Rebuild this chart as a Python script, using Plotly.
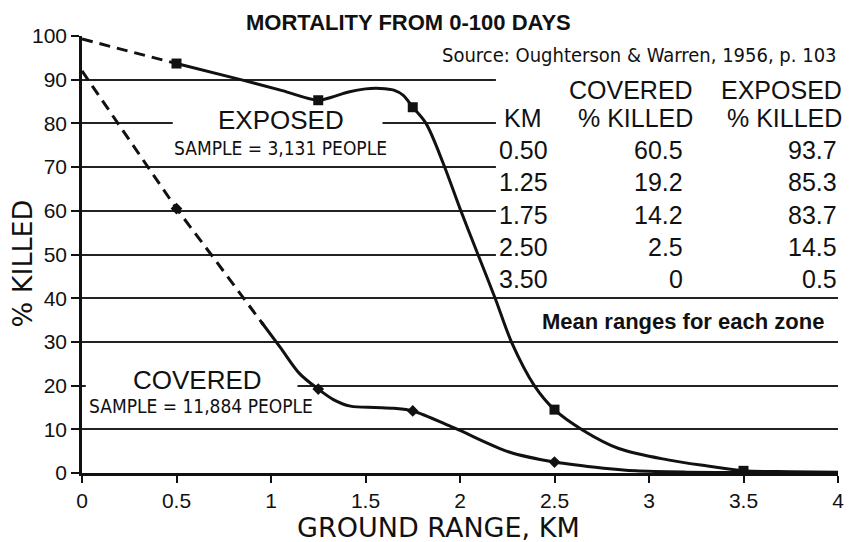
import plotly.graph_objects as go

# Mean ground range of each zone (km) and % killed in 0-100 days
zone_km = [0.50, 1.25, 1.75, 2.50, 3.50]
covered_pct = [60.5, 19.2, 14.2, 2.5, 0]
exposed_pct = [93.7, 85.3, 83.7, 14.5, 0.5]

# Hand-faired curves through the zone values
exposed_fit_x = [0.5, 0.85, 1.06, 1.25, 1.32, 1.41, 1.50, 1.58, 1.65, 1.70, 1.75,
                 1.82, 1.91, 2.0, 2.095, 2.186, 2.273, 2.395, 2.5, 2.65, 2.84,
                 3.10, 3.31, 3.5, 3.75, 4.0]
exposed_fit_y = [93.7, 89.9, 87.5, 85.3, 86.0, 87.2, 87.9, 88.0, 87.6, 86.4, 83.7,
                 80.0, 71.0, 60.5, 50.0, 40.0, 29.9, 19.9, 14.5, 9.8, 5.6,
                 3.0, 1.6, 0.5, 0.3, 0.2]
exposed_extrap_x = [0.0, 0.5]
exposed_extrap_y = [99.3, 93.7]

covered_fit_x = [0.95, 1.05, 1.15, 1.25, 1.33, 1.42, 1.55, 1.65, 1.75, 1.97,
                 2.26, 2.5, 2.76, 2.93, 3.2, 3.5, 3.75, 4.0]
covered_fit_y = [34.5, 28.7, 22.8, 19.2, 16.8, 15.3, 15.0, 14.8, 14.2, 10.3,
                 4.8, 2.5, 1.1, 0.5, 0.2, 0.1, 0.1, 0.1]
covered_extrap_x = [0.0, 0.5, 0.69, 0.865, 0.96]
covered_extrap_y = [92.0, 60.5, 49.6, 39.4, 33.9]

x_ticks = [0, 0.5, 1, 1.5, 2, 2.5, 3, 3.5, 4]
y_ticks = list(range(0, 101, 10))

W, H = 856, 542
ML, MR, MT, MB = 82, 12, 36, 69
PW, PH = W - ML - MR, H - MT - MB


def paper(px, py):
    return (px - ML) / PW, (H - MB - py) / PH


SANS = "Liberation Sans, Arial, sans-serif"
HUM = "DejaVu Sans Condensed, DejaVu Sans, sans-serif"
WIDE = "DejaVu Sans, sans-serif"
INK = "#111111"

fig = go.Figure()

line_style = dict(color=INK, width=3)
dash_style = dict(color=INK, width=3, dash="11px,7px")

fig.add_trace(go.Scatter(x=exposed_extrap_x, y=exposed_extrap_y, mode="lines",
                         line=dash_style, hoverinfo="skip"))
fig.add_trace(go.Scatter(x=exposed_fit_x, y=exposed_fit_y, mode="lines",
                         line=dict(line_style, shape="spline", smoothing=0.9),
                         hoverinfo="skip"))
fig.add_trace(go.Scatter(x=covered_extrap_x, y=covered_extrap_y, mode="lines",
                         line=dash_style, hoverinfo="skip"))
fig.add_trace(go.Scatter(x=covered_fit_x, y=covered_fit_y, mode="lines",
                         line=dict(line_style, shape="spline", smoothing=0.9),
                         hoverinfo="skip"))
fig.add_trace(go.Scatter(x=zone_km, y=exposed_pct, mode="markers", name="Exposed",
                         marker=dict(symbol="square", size=10, color=INK)))
fig.add_trace(go.Scatter(x=zone_km, y=covered_pct, mode="markers", name="Covered",
                         marker=dict(symbol="diamond", size=9, color=INK)))

# White patches that interrupt the gridlines behind the labels and the table
masks = [
    (0.48, 1.59, 76, 84),     # EXPOSED label
    (0.02, 1.14, 17, 23),     # COVERED label
    (2.19, 4.05, 42, 95),     # data table
]
shapes = []
for x0, x1, y0, y1 in masks:
    shapes.append(dict(type="rect", xref="x", yref="y", x0=x0, x1=x1, y0=y0, y1=y1,
                       fillcolor="white", line=dict(width=0), layer="between"))

ann = []


def text(px, py, s, size, family=SANS, xanchor="center", bold=False, angle=0):
    x, y = paper(px, py)
    ann.append(dict(x=x, y=y, xref="paper", yref="paper", text=f"<b>{s}</b>" if bold else s,
                    showarrow=False, xanchor=xanchor, yanchor="middle", textangle=angle,
                    font=dict(family=family, size=size, color=INK)))


text(411, 23, "MORTALITY FROM 0-100 DAYS", 22, bold=True)
text(845, 55, "Source: Oughterson &amp; Warren, 1956, p. 103", 20, family=HUM, xanchor="right")
text(283, 120, "EXPOSED", 26)
text(282, 148, "SAMPLE = 3,131 PEOPLE", 19, family=HUM)
text(198, 380, "COVERED", 26)
text(202, 406, "SAMPLE = 11,884 PEOPLE", 19, family=HUM)

# Table
text(527, 118, "KM", 25)
text(700, 90, "COVERED", 25, xanchor="right")
text(700, 118, "% KILLED", 25, xanchor="right")
text(850, 90, "EXPOSED", 25, xanchor="right")
text(850, 118, "% KILLED", 25, xanchor="right")
row_y = [150, 182, 215, 247, 279]
for ry, k, c, e in zip(row_y, zone_km, covered_pct, exposed_pct):
    text(500, ry, f"{k:.2f}", 25, xanchor="left")
    text(690, ry, f"{c:g}", 25, xanchor="right")
    text(845, ry, f"{e:g}", 25, xanchor="right")
text(688, 321, "Mean ranges for each zone", 22, bold=True)

# Axis titles
text(441, 527, "GROUND RANGE, KM", 27, family=WIDE)
text(22, 263, "% KILLED", 27, family=WIDE, angle=-90)

fig.update_layout(
    width=W, height=H,
    margin=dict(l=ML, r=MR, t=MT, b=MB),
    paper_bgcolor="white", plot_bgcolor="white",
    showlegend=False,
    shapes=shapes,
    annotations=ann,
    xaxis=dict(range=[0, 4], tickvals=x_ticks, showgrid=False, zeroline=False,
               showline=True, linecolor=INK, linewidth=2.5,
               ticks="outside", ticklen=7, tickwidth=2, tickcolor=INK,
               tickfont=dict(family=SANS, size=21, color=INK)),
    yaxis=dict(range=[0, 100], tickvals=y_ticks, showgrid=True, gridcolor="#222222",
               gridwidth=2, zeroline=False, showline=True, linecolor=INK, linewidth=2.5,
               ticks="outside", ticklen=8, tickwidth=2, tickcolor=INK,
               tickfont=dict(family=SANS, size=21, color=INK)),
)

fig.write_html("out.html")
